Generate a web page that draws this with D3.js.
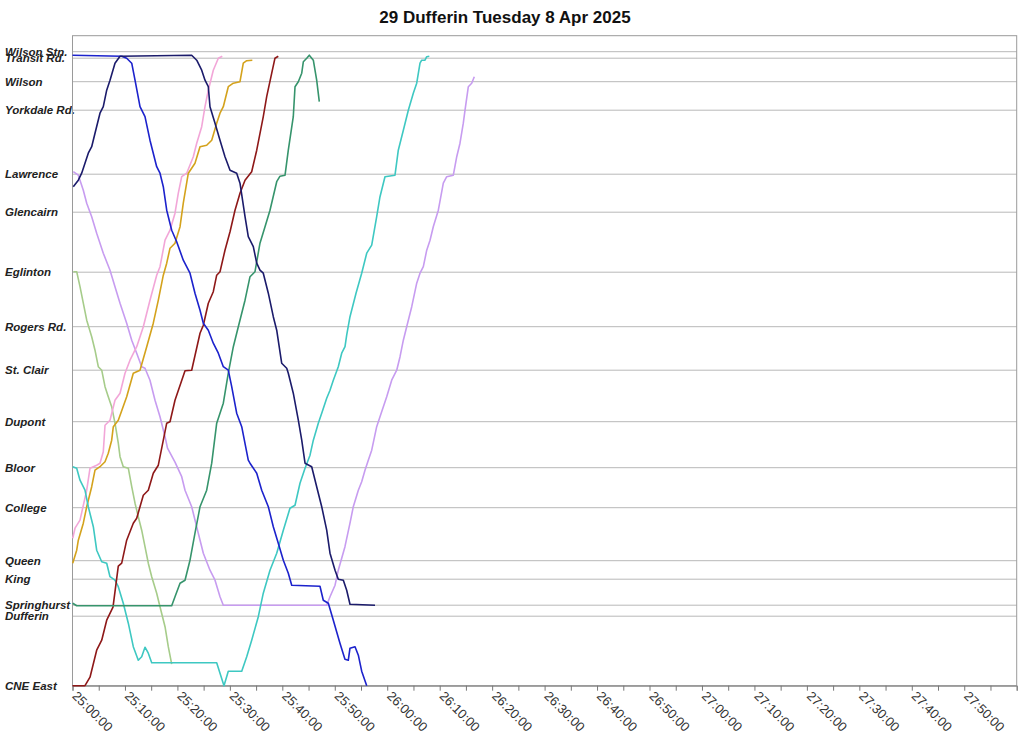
<!DOCTYPE html>
<html><head><meta charset="utf-8">
<script src="https://cdn.jsdelivr.net/npm/d3@7"></script>
<style>body{margin:0;background:#fff}svg{display:block}</style>
</head><body>
<svg id="c" width="1024" height="748"></svg>
<script>
// ---- data ----
const chartTitle = "29 Dufferin Tuesday 8 Apr 2025";
const stationNames = ["CNE East","Dufferin","Springhurst","King","Queen","College","Bloor","Dupont","St. Clair","Rogers Rd.","Eglinton","Glencairn","Lawrence","Yorkdale Rd.","Wilson","Transit Rd.","Wilson Stn."];
const stationKm   = [0, 1.39, 1.61, 2.13, 2.50, 3.56, 4.36, 5.28, 6.31, 7.18, 8.27, 9.47, 10.23, 11.51, 12.08, 12.55, 12.68];
const timeTicksMin = d3.range(0, 181, 5);      // minutes after 25:00:00
const timeLabelsMin = d3.range(0, 180, 10);

// each vehicle: [minutes after 25:00:00, km from CNE East]
const vehNavy = [[0.15,9.98],[1.11,10.11],[1.75,10.25],[2.38,10.45],[3.01,10.65],[3.66,10.78],[4.29,11.05],[5.24,11.45],[5.87,11.58],[6.52,11.91],[7.15,12.11],[8.10,12.45],[9.06,12.59],[22.72,12.61],[23.68,12.51],[24.63,12.31],[25.26,12.11],[25.89,11.98],[26.21,11.58],[27.17,11.25],[28.12,10.91],[29.07,10.58],[30.03,10.31],[31.30,10.25],[31.93,10.05],[32.89,9.38],[33.51,8.98],[34.47,8.78],[35.12,8.45],[35.74,8.31],[36.37,8.25],[37.33,7.85],[38.28,7.38],[38.93,7.11],[39.88,6.45],[40.84,6.35],[41.14,6.25],[42.09,5.85],[43.05,5.31],[43.70,4.91],[44.33,4.45],[45.60,4.38],[46.55,3.98],[47.51,3.58],[48.46,3.11],[49.09,2.65],[50.05,2.31],[50.67,2.13],[51.63,2.11],[52.27,1.91],[52.90,1.63],[57.67,1.61]];
const vehBlue = [[0,12.61],[9.38,12.59],[10.33,12.55],[11.29,12.45],[11.92,12.11],[12.87,11.58],[13.82,11.38],[14.77,10.91],[16.05,10.38],[16.68,10.25],[17.31,9.98],[17.96,9.51],[18.91,9.11],[19.86,8.88],[21.12,8.51],[22.40,8.25],[23.35,7.85],[24.31,7.51],[24.94,7.25],[25.89,7.11],[26.84,6.85],[27.80,6.65],[28.75,6.38],[29.70,6.31],[30.35,5.98],[31.30,5.45],[32.26,5.18],[33.51,4.51],[33.84,4.45],[35.12,4.25],[36.07,3.91],[37.33,3.58],[38.28,3.18],[39.23,2.85],[40.19,2.51],[41.14,2.25],[41.79,2.01],[47.18,1.99],[47.81,1.71],[48.77,1.65],[49.72,1.31],[50.99,0.85],[51.94,0.53],[52.58,0.51],[52.90,0.75],[53.86,0.78],[54.49,0.61],[55.13,0.29],[56.09,0]];
const vehLavender = [[0.15,10.28],[1.11,10.21],[2.06,9.91],[2.71,9.65],[3.66,9.38],[4.61,9.05],[5.87,8.65],[7.15,8.31],[8.10,7.98],[9.06,7.65],[10.33,7.25],[11.29,6.91],[12.24,6.65],[13.19,6.38],[13.82,6.35],[14.77,6.11],[15.73,5.71],[16.68,5.38],[17.64,4.98],[18.11,4.75],[19.54,4.47],[20.82,4.18],[21.45,3.91],[22.72,3.58],[23.98,3.05],[24.94,2.65],[26.21,2.31],[27.17,2.11],[28.12,1.78],[28.75,1.61],[48.46,1.61],[49.09,1.78],[50.05,2.01],[50.67,2.31],[51.94,2.78],[52.90,3.25],[53.53,3.58],[54.49,3.91],[55.13,4.08],[55.76,4.31],[56.39,4.51],[57.04,4.71],[57.99,5.18],[58.62,5.38],[59.90,5.78],[60.85,6.11],[61.81,6.31],[62.44,6.58],[63.07,6.91],[63.71,7.18],[64.67,7.58],[65.62,8.05],[66.25,8.25],[66.88,8.38],[67.53,8.71],[68.16,8.91],[68.78,9.18],[69.74,9.51],[70.69,10.05],[71.34,10.18],[72.60,10.21],[73.25,10.58],[73.87,10.85],[74.50,11.25],[74.83,11.51],[75.46,11.98],[76.10,12.05],[76.60,12.18]];
const vehSage = [[0.15,8.28],[0.80,8.28],[1.43,7.98],[2.06,7.65],[2.71,7.31],[3.66,6.98],[4.29,6.71],[4.92,6.38],[5.57,6.31],[6.20,5.98],[6.82,5.78],[7.47,5.58],[8.10,5.25],[8.73,4.85],[9.06,4.58],[9.68,4.38],[10.64,4.35],[11.29,3.98],[11.92,3.65],[12.54,3.38],[13.19,3.11],[13.82,2.78],[14.45,2.45],[15.10,2.18],[16.05,1.85],[16.68,1.58],[17.64,1.18],[18.26,0.78],[18.91,0.43]];
const vehCyan = [[0.04,4.38],[0.80,4.35],[1.43,4.11],[2.38,3.91],[3.01,3.58],[3.97,3.18],[4.61,2.71],[5.57,2.48],[6.52,2.45],[7.15,2.18],[8.10,2.11],[8.73,1.98],[9.68,1.65],[10.64,1.25],[11.59,0.78],[12.54,0.51],[13.19,0.58],[13.82,0.77],[14.45,0.65],[15.10,0.46],[27.49,0.46],[28.12,0.25],[28.88,0],[29.70,0.29],[32.26,0.29],[33.21,0.58],[34.16,0.91],[35.42,1.38],[36.37,1.85],[37.65,2.31],[38.93,2.65],[40.19,3.11],[41.46,3.55],[42.42,3.61],[43.37,4.05],[44.33,4.35],[45.28,4.61],[45.91,4.91],[46.86,5.25],[47.51,5.45],[48.46,5.75],[49.09,5.91],[49.72,6.11],[50.67,6.38],[51.32,6.65],[51.95,6.78],[52.27,7.01],[52.90,7.38],[54.05,7.85],[55.13,8.25],[56.09,8.65],[57.04,8.81],[57.99,9.38],[58.62,9.78],[59.57,10.18],[61.48,10.21],[62.11,10.71],[63.07,11.11],[64.02,11.51],[64.97,11.85],[65.62,12.05],[66.25,12.45],[66.57,12.51],[67.20,12.51],[67.53,12.58],[68.02,12.59]];
const vehGreen = [[0.04,1.65],[0.80,1.60],[18.91,1.60],[19.54,1.78],[20.50,2.05],[21.45,2.11],[22.40,2.51],[23.35,3.05],[24.31,3.58],[25.58,3.91],[26.54,4.45],[27.49,5.25],[28.75,5.65],[29.70,6.25],[30.66,6.78],[31.61,7.18],[32.89,7.71],[33.84,8.18],[34.79,8.28],[35.74,8.85],[36.70,9.18],[37.65,9.51],[38.93,10.08],[39.56,10.19],[40.52,10.21],[41.14,10.71],[42.09,11.38],[42.42,11.98],[43.05,12.08],[43.70,12.25],[44.01,12.48],[44.65,12.55],[45.14,12.61],[45.91,12.51],[46.55,12.11],[47.05,11.68]];
const vehMaroon = [[0,0],[2.38,0],[3.34,0.17],[4.61,0.71],[5.57,0.91],[6.52,1.31],[7.72,1.57],[8.73,2.39],[9.38,2.45],[10.33,2.91],[11.59,3.25],[12.24,3.35],[13.50,3.81],[14.45,3.91],[15.40,4.25],[16.36,4.41],[17.96,5.25],[18.59,5.28],[19.54,5.71],[21.45,6.30],[22.72,6.31],[24.31,7.05],[24.94,7.21],[25.89,7.65],[26.84,7.88],[27.49,8.21],[28.12,8.28],[29.07,8.71],[30.03,9.08],[30.98,9.51],[31.93,9.85],[32.89,10.11],[34.16,10.28],[35.12,10.71],[36.37,11.38],[37.02,11.78],[37.98,12.25],[38.60,12.55],[39.23,12.59]];
const vehPink = [[0.04,2.95],[0.48,3.15],[1.43,3.31],[2.71,3.91],[3.34,4.35],[4.61,4.41],[5.24,4.45],[5.87,4.68],[6.20,5.21],[7.15,5.31],[8.10,5.71],[9.06,5.85],[10.01,6.25],[10.96,6.51],[12.24,6.78],[13.50,7.18],[14.77,7.71],[16.05,8.21],[16.68,8.38],[17.64,8.91],[18.59,9.11],[19.54,9.45],[20.17,9.85],[20.82,10.18],[21.77,10.25],[23.03,10.58],[23.68,10.85],[24.63,11.18],[25.26,11.58],[25.89,11.91],[26.84,12.31],[27.80,12.55],[28.56,12.59]];
const vehGold = [[0.04,2.45],[0.80,2.71],[1.11,2.91],[2.06,3.25],[2.71,3.58],[3.66,3.98],[4.29,4.31],[5.24,4.38],[6.20,4.48],[6.82,4.65],[7.47,4.91],[7.78,5.18],[8.73,5.31],[10.33,5.78],[11.59,6.25],[12.87,6.31],[14.15,6.78],[15.40,7.25],[16.36,7.71],[17.31,8.21],[17.96,8.45],[18.59,8.75],[19.54,8.85],[20.50,9.18],[21.12,9.65],[22.08,10.25],[23.35,10.45],[24.31,10.78],[25.58,10.81],[26.54,10.91],[27.49,11.25],[28.12,11.45],[28.75,11.58],[29.70,11.98],[30.66,12.05],[31.93,12.08],[32.56,12.45],[33.21,12.50],[34.28,12.51]];

const vehicles = [vehSage, vehLavender, vehPink, vehGold, vehCyan, vehMaroon, vehGreen, vehBlue, vehNavy];
const vehicleColors = ["#a6cc8a", "#c79cf0", "#f2a6d8", "#d4a21c", "#3ec8c2", "#8e1818", "#36946c", "#1c22cc", "#1b1b6b"];

// ---- chart ----
const svg = d3.select("#c");
const L = 72.5, R = 1016.7, T = 35.7, B = 685.7;
const x = d3.scaleLinear().domain([0, 180]).range([L, R]);
const y = d3.scaleLinear().domain([0, 13]).range([B, T]);
const font = "'Liberation Sans', Arial, sans-serif";

svg.append("text").attr("x", 505).attr("y", 23).attr("text-anchor", "middle")
  .attr("font-family", font).attr("font-weight", "bold").attr("font-size", 17).attr("fill", "#111")
  .text(chartTitle);

// gridlines
svg.append("g").selectAll("line").data(stationKm).join("line")
  .attr("x1", L).attr("x2", R).attr("y1", d => y(d)).attr("y2", d => y(d))
  .attr("stroke", "#b8b8b8").attr("stroke-width", 1);

// station labels
svg.append("g").selectAll("text").data(stationNames).join("text")
  .attr("x", 5).attr("y", (d, i) => y(stationKm[i])).attr("dy", "0.35em")
  .attr("font-family", font).attr("font-weight", "bold").attr("font-style", "italic")
  .attr("font-size", 11.5).attr("fill", "#222").text(d => d);

// frame
svg.append("rect").attr("x", L).attr("y", T).attr("width", R - L).attr("height", B - T)
  .attr("fill", "none").attr("stroke", "#9a9a9a").attr("stroke-width", 1);

// x axis
const fmt = m => { const h = 25 + Math.floor(m / 60), mm = m % 60; return h + ":" + String(mm).padStart(2, "0") + ":00"; };
const ax = svg.append("g").attr("transform", `translate(0,${B})`)
  .call(d3.axisBottom(x).tickValues(timeTicksMin).tickSize(5).tickFormat(""));
ax.select(".domain").attr("stroke", "#888");
ax.selectAll(".tick line").attr("stroke", "#777");
svg.append("g").selectAll("text").data(timeLabelsMin).join("text")
  .attr("transform", d => `translate(${x(d) - 1},${B + 11}) rotate(45)`)
  .attr("font-family", font).attr("font-size", 13).attr("fill", "#333")
  .text(fmt);

// lines
const line = d3.line().x(d => x(d[0])).y(d => y(d[1]));
svg.append("g").selectAll("path").data(vehicles).join("path")
  .attr("d", line).attr("fill", "none")
  .attr("stroke", (d, i) => vehicleColors[i]).attr("stroke-width", 1.6)
  .attr("stroke-linejoin", "round");
</script>
</body></html>
